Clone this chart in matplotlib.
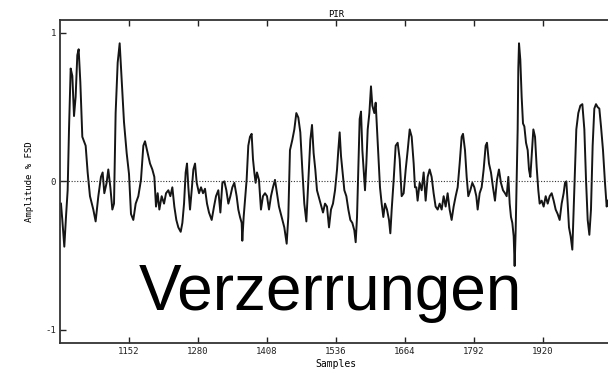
import matplotlib
matplotlib.use('Agg')
import matplotlib.pyplot as plt

# Werte (Sample, Amplitude)
samples = [
    1025.8, 1028.3, 1032.0, 1035.1, 1038.2, 1040.7, 1043.8, 1046.9, 1050.0, 1053.0,
    1056.1, 1058.6, 1061.7, 1065.4, 1071.6, 1075.3, 1079.6, 1085.8, 1090.1, 1095.1,
    1100.0, 1103.1, 1106.2, 1110.5, 1113.6, 1117.4, 1121.1, 1124.2, 1127.2, 1131.0,
    1134.7, 1138.4, 1142.7, 1147.7, 1152.0, 1155.7, 1160.0, 1164.4, 1169.3, 1174.2,
    1178.6, 1181.7,
    1186.6, 1191.0, 1195.3, 1199.0, 1202.1, 1205.2, 1208.3, 1212.6, 1217.0, 1220.7,
    1225.0, 1228.7, 1232.4, 1236.1, 1239.8, 1243.5, 1247.9, 1251.0, 1254.1, 1257.1,
    1259.6, 1262.1, 1265.2, 1268.3, 1271.4, 1274.5, 1277.6, 1281.9, 1285.6, 1289.3,
    1293.0, 1296.7, 1300.4, 1305.4, 1309.7, 1313.4, 1317.7, 1321.5, 1325.2, 1328.9,
    1332.6, 1336.3, 1340.0, 1343.7, 1347.4,
    1351.7, 1354.8, 1357.9, 1361.0, 1362.2, 1364.7, 1367.2, 1370.2, 1373.3, 1376.4,
    1379.5, 1382.0, 1384.5, 1386.9, 1389.4, 1393.1, 1396.8, 1400.5, 1404.3, 1408.0,
    1411.7, 1415.4, 1419.1, 1422.8, 1426.5, 1430.2, 1435.2, 1440.1, 1444.5, 1447.5,
    1450.6, 1455.0, 1458.7, 1462.4, 1466.1, 1469.8, 1473.5, 1477.2, 1481.0, 1484.7,
    1488.4, 1491.5, 1494.5, 1497.6, 1500.7, 1504.4, 1508.1, 1511.9,
    1515.6, 1519.3, 1523.0, 1526.7, 1530.4, 1534.2, 1537.9, 1540.3, 1542.8, 1545.3,
    1547.8, 1551.5, 1555.2, 1558.9, 1562.6, 1566.3, 1570.0, 1572.5, 1575.0, 1577.4,
    1579.9, 1582.4, 1584.9, 1587.3, 1589.8, 1592.3, 1594.8, 1597.9, 1600.9, 1603.4,
    1607.1, 1609.6, 1612.1, 1614.5, 1617.6, 1620.7, 1623.8, 1626.9, 1630.6, 1634.3,
    1636.8, 1639.3, 1643.0, 1646.7, 1650.4, 1654.1, 1657.8, 1661.5, 1665.3, 1669.0,
    1672.7, 1676.4, 1680.1,
    1682.5, 1685.0, 1687.4, 1691.2, 1694.9, 1698.6, 1702.3, 1706.0, 1709.7, 1713.4,
    1717.1, 1720.8, 1724.6, 1728.3, 1732.0, 1735.7, 1739.4, 1743.1, 1746.8, 1750.5,
    1754.2, 1758.0, 1761.7, 1765.4, 1769.1, 1771.6, 1775.3, 1778.4, 1781.4, 1785.2,
    1788.9, 1792.6, 1796.3, 1798.8, 1802.5, 1806.2, 1809.9, 1813.6, 1816.1, 1819.8,
    1823.5, 1827.2, 1830.9, 1834.6, 1838.3, 1842.0, 1845.8,
    1849.5, 1852.6, 1855.7, 1858.2, 1860.6, 1863.1, 1865.6, 1867.4, 1869.3, 1871.1,
    1873.0, 1874.2, 1875.5, 1877.9, 1880.4, 1882.9, 1885.4, 1888.5, 1891.6, 1894.0,
    1896.5, 1899.0, 1902.1, 1905.2, 1908.2, 1911.3, 1913.8, 1917.5, 1921.2, 1925.0,
    1928.7, 1932.4, 1936.1, 1939.8, 1943.5, 1947.2, 1950.9, 1954.6, 1958.3, 1960.8,
    1963.3, 1965.8, 1968.2, 1971.3, 1974.4, 1976.9, 1979.4, 1981.8, 1985.5, 1989.3,
    1993.0, 1996.7, 1999.8, 2002.9, 2006.0, 2009.0, 2012.1, 2015.2, 2018.3, 2021.4,
    2024.5, 2027.6, 2031.3, 2035.0, 2038.1, 2040.6,
]
amplitude = [
    -0.15, -0.26, -0.44, -0.24, -0.06, 0.35, 0.76, 0.71, 0.44, 0.57,
    0.85, 0.89, 0.67, 0.30, 0.24, 0.06, -0.10, -0.19, -0.27, -0.10,
    0.03, 0.06, -0.08, -0.01, 0.08, -0.04, -0.19, -0.15, 0.46, 0.80,
    0.93, 0.69, 0.40, 0.19, 0.05, -0.22, -0.26, -0.15, -0.10, 0.01,
    0.24, 0.27,
    0.19, 0.12, 0.08, 0.03, -0.17, -0.08, -0.19, -0.10, -0.15, -0.08,
    -0.06, -0.10, -0.04, -0.17, -0.26, -0.31, -0.34, -0.28, -0.15, 0.06,
    0.12, -0.04, -0.19, -0.06, 0.08, 0.12, -0.01, -0.08, -0.04, -0.08,
    -0.05, -0.15, -0.21, -0.26, -0.17, -0.10, -0.06, -0.21, -0.01, 0.00,
    -0.06, -0.15, -0.10, -0.04, -0.01,
    -0.10, -0.19, -0.24, -0.28, -0.40, -0.24, -0.13, 0.01, 0.24, 0.30,
    0.32, 0.15, 0.06, -0.01, 0.06, 0.01, -0.19, -0.10, -0.08, -0.10,
    -0.19, -0.10, -0.04, 0.01, -0.08, -0.17, -0.24, -0.31, -0.42, -0.24,
    0.21, 0.28, 0.35, 0.46, 0.43, 0.33, 0.08, -0.15, -0.27, 0.01,
    0.28, 0.38, 0.19, 0.08, -0.06, -0.11, -0.16, -0.21,
    -0.15, -0.17, -0.31, -0.19, -0.15, -0.06, 0.08, 0.21, 0.33, 0.17,
    0.08, -0.06, -0.10, -0.19, -0.26, -0.28, -0.33, -0.41, -0.24, 0.08,
    0.42, 0.47, 0.21, 0.08, -0.06, 0.12, 0.35, 0.46, 0.64, 0.51,
    0.46, 0.53, 0.35, 0.17, -0.04, -0.15, -0.24, -0.15, -0.19, -0.26,
    -0.35, -0.19, 0.01, 0.24, 0.26, 0.15, -0.10, -0.08, 0.08, 0.21,
    0.35, 0.30, 0.12,
    -0.04, -0.04, -0.13, -0.01, -0.06, 0.06, -0.13, 0.03, 0.08, 0.03,
    -0.08, -0.17, -0.19, -0.15, -0.19, -0.10, -0.17, -0.08, -0.19, -0.26,
    -0.17, -0.10, -0.04, 0.12, 0.30, 0.32, 0.21, 0.03, -0.10, -0.06,
    -0.01, -0.04, -0.10, -0.19, -0.08, -0.04, 0.08, 0.24, 0.26, 0.12,
    0.06, -0.04, -0.13, 0.01, 0.08, -0.01, -0.06,
    -0.08, -0.10, 0.03, -0.15, -0.24, -0.28, -0.37, -0.57, -0.33, 0.01,
    0.35, 0.76, 0.93, 0.82, 0.57, 0.39, 0.37, 0.26, 0.21, 0.08,
    0.03, 0.17, 0.35, 0.30, 0.10, -0.06, -0.15, -0.13, -0.17, -0.10,
    -0.15, -0.10, -0.08, -0.13, -0.19, -0.22, -0.26, -0.15, -0.08, -0.01,
    0.00, -0.15, -0.31, -0.37, -0.46, -0.19, 0.08, 0.35, 0.46, 0.51,
    0.52, 0.35, 0.01, -0.26, -0.36, -0.19, 0.24, 0.49, 0.52, 0.50,
    0.49, 0.37, 0.21, -0.01, -0.17, -0.13,
]
x_ticks = [1152, 1280, 1408, 1536, 1664, 1792, 1920]
y_ticks = [-1, 0, 1]

mono = 'DejaVu Sans Mono'

fig = plt.figure(figsize=(6.08, 3.74), dpi=100)
ax = fig.add_axes([60 / 608, 31 / 374, 552 / 608, 323 / 374])

ax.plot(samples, amplitude, color='#151515', linewidth=1.4)
ax.axhline(0, color='#333333', linewidth=0.8, linestyle=(0, (1, 1.5)))

ax.set_xlim(1024, 2048)
ax.set_ylim(-1.089, 1.087)
ax.set_xticks(x_ticks)
ax.set_yticks(y_ticks)
ax.set_xticklabels([str(t) for t in x_ticks], fontsize=6.5, family=mono)
ax.set_yticklabels(['-1', '0', '1'], fontsize=6.5, family=mono)
ax.tick_params(direction='in', length=4, width=1, top=True, pad=3, colors='#222222')

for s in ax.spines.values():
    s.set_linewidth(1.3)
    s.set_color('#333333')

ax.set_title('PIR', fontsize=6.5, family=mono, pad=2)
ax.set_xlabel('Samples', fontsize=7, family=mono, labelpad=2)
ax.set_ylabel('Amplitude % FSD', fontsize=6.5, family=mono, labelpad=8)

# Ueberlagerter Text
fig.text(330 / 608, 1 - 310 / 374, 'Verzerrungen', fontsize=46,
         family='Liberation Sans', ha='center', va='baseline', color='black')

plt.savefig('out.png', dpi=100)
